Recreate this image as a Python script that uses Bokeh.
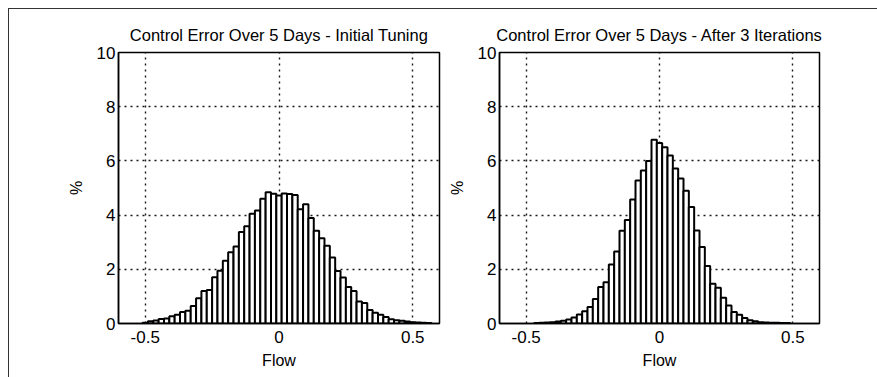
import numpy as np
from bokeh.plotting import figure
from bokeh.layouts import row
from bokeh.models import FixedTicker, Range1d
from bokeh.embed import file_html
from bokeh.resources import INLINE

# ---- data (percent of samples per 0.02-wide Flow bin) ----
bin_width = 0.02
left_first_bin = -0.50
left_pct = [0.03, 0.08, 0.11, 0.17, 0.18, 0.27, 0.32, 0.42, 0.47, 0.65,
            0.93, 1.20, 1.24, 1.71, 1.95, 2.32, 2.63, 2.84, 3.38, 3.59,
            4.05, 4.17, 4.60, 4.84, 4.79,
            4.72, 4.80, 4.78, 4.74, 4.22, 4.40, 3.89, 3.42, 3.15, 2.87,
            2.44, 1.94, 1.70, 1.35, 1.20, 0.81, 0.76, 0.50, 0.40, 0.32,
            0.24, 0.16, 0.12, 0.10, 0.07, 0.05, 0.04, 0.03, 0.02]
right_first_bin = -0.46
right_pct = [0.02, 0.03, 0.04, 0.05, 0.07, 0.10, 0.15, 0.22, 0.33, 0.45,
             0.61, 0.90, 1.35, 1.52, 2.18, 2.66, 3.42, 3.82, 4.58, 5.28,
             5.65, 6.00, 6.78,
             6.66, 6.50, 6.20, 5.72, 5.35, 4.90, 4.30, 3.43, 2.82, 2.12,
             1.47, 1.32, 0.95, 0.66, 0.42, 0.32, 0.20, 0.12, 0.08, 0.05,
             0.04, 0.03, 0.03, 0.02, 0.02]

titles = ["Control Error Over 5 Days - Initial Tuning",
          "Control Error Over 5 Days - After 3 Iterations"]
x_label = "Flow"
y_label = "%"
x_ticks = [-0.5, 0, 0.5]
x_tick_labels = {-0.5: "-0.5", 0: "0", 0.5: "0.5"}
y_ticks = [0, 2, 4, 6, 8, 10]

FONT = "Liberation Sans"


def make_panel(title, first_bin, pct, width, border_left, border_right):
    centers = np.round(first_bin + bin_width * np.arange(len(pct)), 2)
    p = figure(width=width, height=368,
               x_range=Range1d(-0.6, 0.6), y_range=Range1d(0, 10),
               output_backend="svg", toolbar_location=None,
               min_border_left=border_left, min_border_right=border_right,
               min_border_top=43, min_border_bottom=54, title=title)
    p.vbar(x=centers, top=pct, bottom=0, width=bin_width,
           fill_color="white", line_color="black", line_width=2)

    p.title.text_font = FONT
    p.title.text_font_size = "16.5px"
    p.title.text_font_style = "normal"
    p.title.text_color = "black"
    p.title.align = "center"
    p.title.standoff = 17

    p.background_fill_color = "white"
    p.border_fill_color = "white"
    p.outline_line_color = "black"
    p.outline_line_width = 1.5
    p.outline_line_alpha = 1.0

    p.xaxis.ticker = FixedTicker(ticks=x_ticks)
    p.xaxis.major_label_overrides = x_tick_labels
    p.yaxis.ticker = FixedTicker(ticks=y_ticks)
    p.xaxis.axis_label = x_label
    p.yaxis.axis_label = y_label

    for ax in (p.xaxis, p.yaxis):
        ax.axis_line_color = "black"
        ax.axis_line_width = 1.5
        ax.major_tick_in = 0
        ax.major_tick_out = 0
        ax.minor_tick_in = 0
        ax.minor_tick_out = 0
        ax.major_label_text_font = FONT
        ax.major_label_text_font_size = "17px"
        ax.major_label_text_color = "black"
        ax.axis_label_text_font = FONT
        ax.axis_label_text_font_size = "16px"
        ax.axis_label_text_font_style = "normal"
        ax.axis_label_text_color = "black"
    p.xaxis.major_label_standoff = 7
    p.xaxis.axis_label_standoff = 6
    p.yaxis.major_label_standoff = 3
    p.yaxis.axis_label_standoff = 9

    for g in (p.xgrid, p.ygrid):
        g.grid_line_color = "black"
        g.grid_line_dash = "2 4"
        g.grid_line_width = 1.4
        g.grid_line_alpha = 0.9
    p.xgrid.ticker = FixedTicker(ticks=x_ticks)
    p.ygrid.ticker = FixedTicker(ticks=[2, 4, 6, 8])
    return p


p1 = make_panel(titles[0], left_first_bin, left_pct, 436, 109, 6)
p2 = make_panel(titles[1], right_first_bin, right_pct, 432, 53, 58)

layout = row(p1, p2, styles={"border-top": "1px solid #333",
                             "border-left": "1px solid #333",
                             "margin-top": "8px", "margin-left": "8px"})

open("out.html", "w").write(file_html(layout, INLINE))
